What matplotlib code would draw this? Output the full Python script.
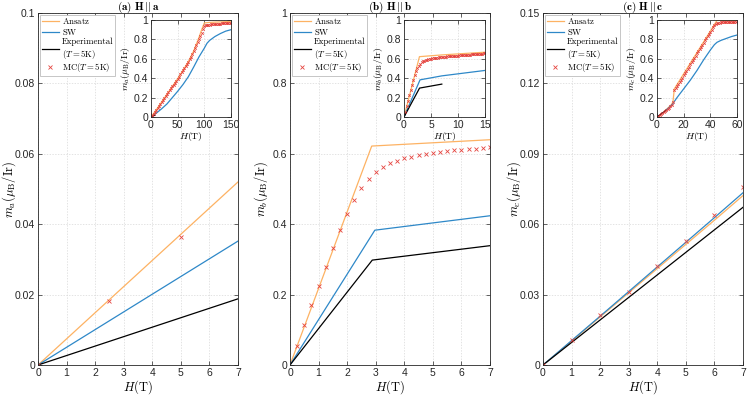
import matplotlib
matplotlib.use('Agg')
import matplotlib.pyplot as plt
import numpy as np

plt.rcParams['font.family'] = ['Liberation Sans', 'DejaVu Sans']
plt.rcParams['mathtext.fontset'] = 'cm'
plt.rcParams['axes.unicode_minus'] = False

C_ANS = '#FDB263'
C_SW = '#2E88C8'
C_EXP = 'black'
C_MC = '#E5443F'

# ---------- panel (a) H || a ----------
a_H = [0, 7]
a_ans = [0, 0.052]
a_sw = [0, 0.0352]
a_exp = [0, 0.0188]
a_mc_H = [0, 2.5, 5]
a_mc = [0, 0.0182, 0.0365]

# inset (a), 0..150 T
ai_H = [0, 10, 20, 30, 40, 50, 60, 70, 80, 90, 95, 100, 110, 120, 130, 140, 150]
ai_ans = [0, 0.075, 0.155, 0.235, 0.315, 0.395, 0.48, 0.57, 0.68, 0.82, 0.9, 0.97, 0.975, 0.978, 0.98, 0.983, 0.985]
ai_sw_H = [0, 10, 20, 30, 40, 50, 60, 70, 80, 90, 100, 105, 110, 120, 130, 140, 150]
ai_sw = [0, 0.04, 0.085, 0.135, 0.2, 0.265, 0.335, 0.415, 0.515, 0.62, 0.71, 0.76, 0.79, 0.83, 0.86, 0.885, 0.9]
ai_mc_H = [0, 2.5, 5, 7.5, 10, 12.5, 15, 17.5, 20, 22.5, 25, 27.5, 30, 32.5, 35, 37.5, 40, 42.5,
           45, 47.5, 50, 52.5, 55, 57.5, 60, 62.5, 65, 67.5, 70, 72.5, 75, 77.5, 80, 82.5, 85,
           87.5, 90, 92.5, 95, 97.5, 100, 102.5, 105, 107.5, 110, 112.5, 115, 117.5, 120, 122.5,
           125, 127.5, 130, 132.5, 135, 137.5, 140, 142.5, 145, 147.5, 150]
ai_mc = [0, 0.017, 0.035, 0.055, 0.075, 0.095, 0.115, 0.135, 0.155, 0.175, 0.195, 0.215, 0.235,
         0.255, 0.275, 0.295, 0.315, 0.335, 0.355, 0.375, 0.395, 0.417, 0.44, 0.46, 0.48, 0.502,
         0.525, 0.547, 0.57, 0.595, 0.62, 0.65, 0.68, 0.71, 0.74, 0.77, 0.80, 0.835, 0.87, 0.905,
         0.935, 0.944, 0.948, 0.951, 0.953, 0.955, 0.956, 0.958, 0.959, 0.96, 0.961, 0.962, 0.963,
         0.964, 0.965, 0.966, 0.967, 0.967, 0.968, 0.969, 0.97]

# ---------- panel (b) H || b ----------
b_H = [0, 2.86, 7, 15]
b_ans = [0, 0.622, 0.640, 0.668]
b_sw_H = [0, 2.97, 7, 15]
b_sw = [0, 0.383, 0.424, 0.48]
b_exp_H = [0, 2.88, 7]
b_exp = [0, 0.298, 0.339]
b_mc_H = [0.25, 0.5, 0.75, 1.0, 1.25, 1.5, 1.75, 2.0, 2.25, 2.5, 2.75, 3.0, 3.25, 3.5, 3.75,
          4.0, 4.25, 4.5, 4.75, 5.0, 5.25, 5.5, 5.75, 6.0, 6.25, 6.5, 6.75, 7.0]
b_mc = [0.055, 0.115, 0.17, 0.225, 0.278, 0.333, 0.384, 0.429, 0.47, 0.503, 0.529, 0.548,
        0.563, 0.574, 0.58, 0.587, 0.592, 0.597, 0.600, 0.603, 0.606, 0.608, 0.610, 0.612,
        0.613, 0.615, 0.616, 0.618]
# extra MC points only shown in the inset (7..15 T)
bi_mc_H = [7.25, 7.5, 7.75, 8, 8.25, 8.5, 8.75, 9, 9.25, 9.5, 9.75, 10, 10.25, 10.5, 10.75, 11,
           11.25, 11.5, 11.75, 12, 12.25, 12.5, 12.75, 13, 13.25, 13.5, 13.75, 14, 14.25, 14.5,
           14.75, 15]
bi_mc = [0.619, 0.621, 0.622, 0.624, 0.625, 0.627, 0.628, 0.629, 0.631, 0.632, 0.633, 0.634,
         0.636, 0.637, 0.638, 0.639, 0.640, 0.641, 0.642, 0.643, 0.644, 0.645, 0.647, 0.648,
         0.649, 0.650, 0.651, 0.652, 0.653, 0.654, 0.655, 0.656]

# ---------- panel (c) H || c ----------
c_H = [0, 1, 2, 3, 4, 5, 6, 7]
c_ans = [0, 0.0102, 0.0205, 0.0308, 0.0411, 0.0514, 0.0617, 0.0722]
c_sw = [0, 0.0104, 0.0208, 0.0313, 0.0418, 0.0523, 0.0628, 0.0734]
c_exp = [0, 0.0096, 0.0192, 0.0288, 0.0384, 0.048, 0.0576, 0.0672]
c_mc = [0, 0.0105, 0.0213, 0.0312, 0.042, 0.053, 0.0638, 0.0757]

# inset (c), 0..60 T
ci_H = [0, 4, 8, 11, 12, 13, 20, 30, 40, 44, 45, 50, 60]
ci_ans = [0, 0.04, 0.09, 0.13, 0.16, 0.29, 0.445, 0.665, 0.885, 0.975, 0.995, 0.995, 0.995]
ci_sw_H = [0, 5, 10, 12, 15, 20, 25, 30, 35, 40, 43, 45, 48, 52, 56, 60]
ci_sw = [0, 0.05, 0.11, 0.14, 0.2, 0.29, 0.38, 0.48, 0.59, 0.69, 0.745, 0.77, 0.79, 0.81, 0.83, 0.845]
ci_mc_H = list(range(0, 61))
ci_mc = [0, 0.01, 0.02, 0.03, 0.04, 0.05, 0.06, 0.072, 0.085, 0.097, 0.11, 0.125, 0.15, 0.28,
         0.30, 0.32, 0.34, 0.362, 0.385, 0.407, 0.43, 0.452, 0.475, 0.497, 0.52, 0.542, 0.565,
         0.587, 0.61, 0.632, 0.655, 0.677, 0.70, 0.722, 0.745, 0.767, 0.79, 0.812, 0.835, 0.857,
         0.88, 0.902, 0.925, 0.945, 0.96, 0.968, 0.972, 0.974, 0.975, 0.976, 0.977, 0.978,
         0.979, 0.979, 0.98, 0.981, 0.982, 0.982, 0.983, 0.984, 0.985]

W, H = 747, 395
fig = plt.figure(figsize=(W / 100, H / 100), dpi=100)


def px_axes(left, top, right, bottom):
    return fig.add_axes([left / W, (H - bottom) / H, (right - left) / W, (bottom - top) / H])


def style(ax, fs=7):
    ax.tick_params(direction='in', top=True, right=True, labelsize=fs, length=3,
                   width=0.5, colors='#262626', pad=2)
    for s in ax.spines.values():
        s.set_linewidth(0.6)
        s.set_color('#262626')
    ax.grid(True, ls=(0, (2, 2)), lw=0.5, color='#d8d8d8')
    ax.set_axisbelow(True)


def fmt(v, pos=None):
    return ('%g' % round(v, 6))


LBL = dict(fontsize=9)
lw = 0.9
mc_kw = dict(ls='none', marker='x', ms=2.2, mew=0.6, color=C_MC)
mci_kw = dict(ls='none', marker='x', ms=1.8, mew=0.6, color=C_MC)

mains = [px_axes(left, 13, left + 200, 365) for left in (38, 290, 543)]

# panel a
ax = mains[0]
ax.plot(a_H, a_ans, color=C_ANS, lw=lw, label=r'$\mathrm{Ansatz}$')
ax.plot(a_H, a_sw, color=C_SW, lw=lw, label=r'$\mathrm{SW}$')
ax.plot(a_H, a_exp, color=C_EXP, lw=lw, label='Experimental\n' + r'$(T=5\mathrm{K})$')
ax.plot(a_mc_H, a_mc, label=r'$\mathrm{MC}(T=5\mathrm{K})$', **mc_kw)
ax.set_ylim(0, 0.1)
ax.set_yticks(np.arange(0, 0.1001, 0.02))
ax.set_ylabel(r'$m_a(\mu_\mathrm{B}/\mathrm{Ir})$', **LBL)
ax.set_title(r'$\mathbf{(a)\ H\,||\,a}$', fontsize=8, pad=2)

# panel b
ax = mains[1]
ax.plot(b_H, b_ans, color=C_ANS, lw=lw, label=r'$\mathrm{Ansatz}$')
ax.plot(b_sw_H, b_sw, color=C_SW, lw=lw, label=r'$\mathrm{SW}$')
ax.plot(b_exp_H, b_exp, color=C_EXP, lw=lw, label='Experimental\n' + r'$(T=5\mathrm{K})$')
ax.plot(b_mc_H, b_mc, label=r'$\mathrm{MC}(T=5\mathrm{K})$', **mc_kw)
ax.set_ylim(0, 1)
ax.set_yticks(np.arange(0, 1.001, 0.2))
ax.set_ylabel(r'$m_b(\mu_\mathrm{B}/\mathrm{Ir})$', **LBL)
ax.set_title(r'$\mathbf{(b)\ H\,||\,b}$', fontsize=8, pad=2)

# panel c
ax = mains[2]
ax.plot(c_H, c_ans, color=C_ANS, lw=lw, label=r'$\mathrm{Ansatz}$')
ax.plot(c_H, c_sw, color=C_SW, lw=lw, label=r'$\mathrm{SW}$')
ax.plot(c_H, c_exp, color=C_EXP, lw=lw, label='Experimental\n' + r'$(T=5\mathrm{K})$')
ax.plot(c_H, c_mc, label=r'$\mathrm{MC}(T=5\mathrm{K})$', **mc_kw)
ax.set_ylim(0, 0.15)
ax.set_yticks(np.arange(0, 0.1501, 0.03))
ax.set_ylabel(r'$m_c(\mu_\mathrm{B}/\mathrm{Ir})$', **LBL)
ax.set_title(r'$\mathbf{(c)\ H\,||\,c}$', fontsize=8, pad=2)

for ax in mains:
    style(ax, fs=7.5)
    ax.set_xlim(0, 7)
    ax.set_xticks(range(8))
    ax.yaxis.set_major_formatter(plt.FuncFormatter(fmt))
    ax.set_xlabel(r'$H(\mathrm{T})$', labelpad=0, **LBL)
    ax.yaxis.set_label_coords(-0.1, 0.5)
    leg = ax.legend(loc='upper left', handlelength=2.0, handletextpad=0.3,
                    borderpad=0.2, labelspacing=0.05, fancybox=False, framealpha=1,
                    edgecolor='#bdbdbd', borderaxespad=0.2,
                    prop={'family': 'cmr10', 'size': 6.3})
    leg.get_frame().set_linewidth(0.6)

# insets
ins_a = px_axes(151, 20, 231, 117)
ins_a.plot(ai_H, ai_ans, color=C_ANS, lw=lw)
ins_a.plot(ai_sw_H, ai_sw, color=C_SW, lw=lw)
ins_a.plot(a_H, a_exp, color=C_EXP, lw=lw)
ins_a.plot(ai_mc_H, ai_mc, **mci_kw)
ins_a.set_xlim(0, 150)
ins_a.set_xticks([0, 50, 100, 150])
ins_a.set_ylabel(r'$m_a(\mu_\mathrm{B}/\mathrm{Ir})$', fontsize=7, labelpad=1)

ins_b = px_axes(404, 20, 485, 117)
ins_b.plot(b_H, b_ans, color=C_ANS, lw=lw)
ins_b.plot(b_sw_H, b_sw, color=C_SW, lw=lw)
ins_b.plot(b_exp_H, b_exp, color=C_EXP, lw=lw)
ins_b.plot(b_mc_H + bi_mc_H, b_mc + bi_mc, **mci_kw)
ins_b.set_xlim(0, 15)
ins_b.set_xticks([0, 5, 10, 15])
ins_b.set_ylabel(r'$m_b(\mu_\mathrm{B}/\mathrm{Ir})$', fontsize=7, labelpad=1)

ins_c = px_axes(657, 20, 737, 117)
ins_c.plot(ci_H, ci_ans, color=C_ANS, lw=lw)
ins_c.plot(ci_sw_H, ci_sw, color=C_SW, lw=lw)
ins_c.plot(c_H, c_exp, color=C_EXP, lw=lw)
ins_c.plot(ci_mc_H, ci_mc, **mci_kw)
ins_c.set_xlim(0, 60)
ins_c.set_xticks([0, 20, 40, 60])
ins_c.set_ylabel(r'$m_c(\mu_\mathrm{B}/\mathrm{Ir})$', fontsize=7, labelpad=1)

for ax in (ins_a, ins_b, ins_c):
    style(ax, fs=7.5)
    ax.set_ylim(0, 1)
    ax.set_yticks(np.arange(0, 1.001, 0.2))
    ax.yaxis.set_major_formatter(plt.FuncFormatter(fmt))
    ax.set_xlabel(r'$H(\mathrm{T})$', fontsize=7, labelpad=0)
    ax.set_facecolor('white')

fig.savefig('out.png', dpi=100)
